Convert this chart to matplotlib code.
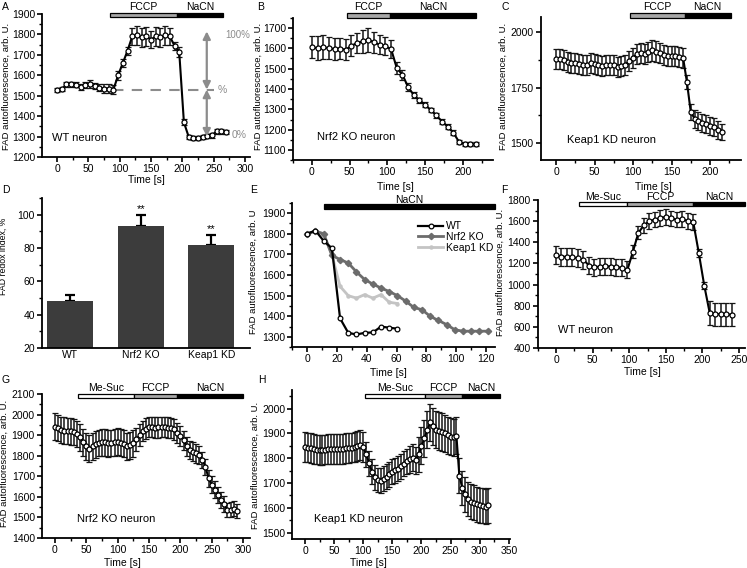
import numpy as np
import matplotlib
matplotlib.use('Agg')
import matplotlib.pyplot as plt
from matplotlib.patches import Rectangle
from matplotlib.transforms import blended_transform_factory
from matplotlib.ticker import MultipleLocator

plt.rcParams['font.family'] = ['Liberation Sans', 'DejaVu Sans']

# ---------------- data ----------------
# Panel A: WT neuron (dt 7.5 s)
a_dt = 7.5
a_val = [1528, 1532, 1555, 1557, 1553, 1543, 1552, 1558, 1547, 1540, 1535, 1535, 1530,
         1600, 1660, 1720, 1790, 1795, 1785, 1790, 1775, 1790, 1785, 1795, 1790, 1745,
         1715, 1370, 1300, 1292, 1293, 1296, 1302, 1306, 1327, 1325, 1322]
a_err = [10, 10, 12, 12, 12, 14, 14, 18, 14, 18, 20, 20, 20, 22, 20, 20, 40, 45, 45,
         45, 40, 45, 45, 45, 40, 20, 25, 15, 10, 10, 10, 10, 10, 12, 12, 10, 10]

# Panel B: Nrf2 KO neuron (dt 7.5 s)
b_dt = 7.5
b_val = [1605, 1601, 1605, 1601, 1596, 1598, 1593, 1613, 1626, 1634, 1642, 1629, 1618,
         1610, 1596, 1503, 1470, 1410, 1370, 1345, 1322, 1297, 1270, 1240, 1215, 1185,
         1140, 1130, 1128, 1128]
b_err = [55, 60, 58, 55, 55, 52, 52, 50, 50, 55, 58, 50, 48, 45, 45, 30, 25, 18, 15,
         12, 12, 12, 12, 12, 12, 12, 10, 10, 10, 10]

# Panel C: Keap1 KD neuron (dt 5 s)
c_dt = 5
c_val = [1878, 1878, 1872, 1866, 1862, 1860, 1858, 1853, 1850, 1860, 1858, 1852, 1846,
         1852, 1853, 1850, 1844, 1848, 1852, 1870, 1885, 1900, 1905, 1903, 1910, 1918,
         1912, 1905, 1898, 1892, 1890, 1891, 1888, 1885, 1775, 1640, 1610, 1598, 1592,
         1585, 1578, 1572, 1560, 1550]
c_err = [45, 45, 45, 45, 45, 45, 45, 45, 45, 45, 45, 45, 45, 45, 45, 45, 45, 45, 45,
         45, 45, 45, 45, 45, 45, 48, 48, 45, 45, 45, 45, 45, 45, 45, 30, 35, 40, 40, 40,
         40, 40, 40, 40, 38]

# Panel D: FAD redox index
d_cat = ['WT', 'Nrf2 KO', 'Keap1 KD']
d_val = [48, 93, 82]
d_err = [4, 7, 6]
d_sig = ['', '**', '**']

# Panel E: NaCN responses (dt 5.5 s)
e_dt = 5.5
e_wt = [1800, 1815, 1765, 1730, 1390, 1320, 1312, 1320, 1322, 1350, 1345, 1340]
e_nrf2 = [1800, 1812, 1800, 1695, 1675, 1658, 1615, 1578, 1556, 1537, 1520, 1500,
          1474, 1443, 1432, 1400, 1380, 1360, 1335, 1328, 1328, 1328, 1328]
e_keap1 = [1800, 1812, 1795, 1700, 1545, 1500, 1488, 1505, 1488, 1505, 1468, 1462]
e_labels = ['WT', 'Nrf2 KO', 'Keap1 KD']

# Panel F: WT neuron with Me-Suc (dt 7.5 s)
f_dt = 7.5
f_val = [1280, 1265, 1262, 1258, 1250, 1235, 1180, 1165, 1170, 1175, 1170, 1165, 1160,
         1140, 1310, 1490, 1560, 1600, 1615, 1630, 1640, 1625, 1615, 1620, 1600, 1590,
         1300, 990, 730, 720, 720, 720, 715]
f_err = [85, 85, 85, 85, 85, 85, 80, 80, 80, 80, 80, 80, 80, 80, 60, 60, 70, 75, 75,
         75, 75, 75, 75, 75, 75, 75, 40, 30, 110, 110, 110, 110, 110]

# Panel G: Nrf2 KO neuron with Me-Suc (dt 5 s)
g_dt = 5
g_val = [1941, 1935, 1925, 1922, 1920, 1918, 1915, 1905, 1890, 1865, 1845, 1835, 1845,
         1855, 1862, 1866, 1865, 1860, 1862, 1866, 1868, 1863, 1858, 1845, 1850, 1860,
         1880, 1900, 1920, 1932, 1940, 1940, 1937, 1938, 1940, 1940, 1937, 1935, 1928,
         1910, 1895, 1875, 1845, 1828, 1820, 1812, 1803, 1780, 1745, 1690, 1660, 1635,
         1610, 1585, 1565, 1535, 1538, 1543, 1532]
g_err = [65, 65, 65, 65, 65, 65, 65, 65, 65, 65, 65, 65, 65, 65, 65, 65, 65, 65, 65,
         65, 65, 65, 65, 65, 65, 65, 55, 55, 50, 50, 50, 50, 50, 50, 50, 50, 50, 50, 50,
         50, 50, 45, 45, 45, 45, 45, 45, 40, 40, 40, 40, 40, 40, 40, 40, 35, 35, 35, 35]

# Panel H: Keap1 KD neuron with Me-Suc (dt 5 s)
h_dt = 5
h_val = [1845, 1843, 1840, 1837, 1835, 1834, 1833, 1835, 1837, 1837, 1837, 1837, 1837,
         1838, 1840, 1842, 1843, 1845, 1850, 1852, 1845, 1815, 1780, 1745, 1723, 1712,
         1710, 1717, 1725, 1735, 1745, 1752, 1758, 1768, 1778, 1788, 1795, 1802, 1792,
         1815, 1850, 1880, 1915, 1945, 1928, 1915, 1910, 1906, 1900, 1893, 1886, 1885,
         1890, 1730, 1680, 1655, 1636, 1625, 1620, 1614, 1610, 1608, 1605, 1610]
h_err = [60, 60, 60, 60, 60, 60, 60, 60, 60, 60, 60, 60, 60, 60, 60, 60, 60, 60, 60,
         60, 60, 50, 50, 50, 50, 50, 50, 50, 50, 50, 50, 50, 50, 50, 50, 50, 55, 55, 55,
         70, 75, 75, 75, 75, 75, 75, 75, 75, 75, 75, 75, 75, 75, 70, 70, 70, 70, 70, 70,
         70, 70, 70, 70, 70]

# drug application bars: (label, start, end, fill)
a_drugs = [('FCCP', 85, 191, '#a8a8a8'), ('NaCN', 191, 265, 'black')]
b_drugs = [('FCCP', 46, 103, '#a8a8a8'), ('NaCN', 103, 218, 'black')]
c_drugs = [('FCCP', 96, 167, '#a8a8a8'), ('NaCN', 167, 227, 'black')]
e_drugs = [('NaCN', 11, 126, 'black')]
f_drugs = [('Me-Suc', 31, 97, 'white'), ('FCCP', 97, 187, '#a8a8a8'), ('NaCN', 187, 258, 'black')]
g_drugs = [('Me-Suc', 37, 126, 'white'), ('FCCP', 126, 195, '#a8a8a8'), ('NaCN', 195, 300, 'black')]
h_drugs = [('Me-Suc', 103, 206, 'white'), ('FCCP', 206, 270, '#a8a8a8'), ('NaCN', 270, 334, 'black')]

# ---------------- figure ----------------
W, H = 747, 568
fig = plt.figure(figsize=(W / 100, H / 100), dpi=100)
YLAB = 'FAD autofluorescence, arb. U.'


def add_ax(l, t, r, b):
    return fig.add_axes([l / W, 1 - b / H, (r - l) / W, (b - t) / H])


def style(ax, xlim, ylim, xmaj, xmin, ymaj, ymin):
    ax.set_xlim(xlim)
    ax.set_ylim(ylim)
    for s in ['top', 'right']:
        ax.spines[s].set_visible(False)
    for s in ['left', 'bottom']:
        ax.spines[s].set_linewidth(1.3)
    if xmaj:
        ax.xaxis.set_major_locator(MultipleLocator(xmaj))
        ax.xaxis.set_minor_locator(MultipleLocator(xmin))
    ax.yaxis.set_major_locator(MultipleLocator(ymaj))
    ax.yaxis.set_minor_locator(MultipleLocator(ymin))
    ax.tick_params(which='major', direction='out', length=3.5, width=1.2, labelsize=7.5, pad=1.5)
    ax.tick_params(which='minor', direction='out', length=2, width=1)


def labels(ax, ylab, ylx, yly, xlx=None, xly=None, fs_y=6.8):
    ax.set_ylabel(ylab, fontsize=fs_y)
    ax.yaxis.set_label_coords(ylx / W, 1 - yly / H, transform=fig.transFigure)
    if xlx is not None:
        ax.set_xlabel('Time [s]', fontsize=7.5)
        ax.xaxis.set_label_coords(xlx / W, 1 - xly / H, transform=fig.transFigure)


def trace(ax, dt, val, err):
    t = np.arange(len(val)) * dt
    ax.errorbar(t, val, yerr=err, fmt='-o', color='black', lw=1.5, ms=3.6,
                mfc='white', mec='black', mew=0.9, ecolor='#151515',
                elinewidth=1.1, capsize=2, capthick=1.1)


def drug_bar(ax, drugs, ybar, ytext, fs=7.5):
    tr = blended_transform_factory(ax.transData, fig.transFigure)
    for lab, x0, x1, fc in drugs:
        ax.add_patch(Rectangle((x0, 1 - (ybar + 2.2) / H), x1 - x0, 4.4 / H, transform=tr,
                               facecolor=fc, edgecolor='black', lw=0.9, clip_on=False))
        ax.text((x0 + x1) / 2, 1 - ytext / H, lab, transform=tr, ha='center', va='center',
                fontsize=fs)


def letter(x, y, s):
    fig.text(x / W, 1 - y / H, s, fontsize=7.5, ha='left', va='center')


# ---- A ----
axA = add_ax(42, 14, 250, 157)
style(axA, (-24, 308), (1200, 1900), 50, 25, 100, 50)
trace(axA, a_dt, a_val, a_err)
labels(axA, YLAB, 11, 86, 146, 175)
drug_bar(axA, a_drugs, 15, 6.5)
grey = '#8c8c8c'
axA.plot([90, 250], [1530, 1530], ls=(0, (5, 4)), color=grey, lw=1.5, zorder=1)
for y0, y1 in [(1530, 1815), (1530, 1300)]:
    axA.annotate('', xy=(239, y1), xytext=(239, y0),
                 arrowprops=dict(arrowstyle='<|-|>', color=grey, lw=1.6,
                                 mutation_scale=11, shrinkA=0, shrinkB=0))
axA.text(268, 1797, '100%', color=grey, fontsize=7, ha='left', va='center', clip_on=False)
axA.text(256, 1528, '%', color=grey, fontsize=7.5, ha='left', va='center', clip_on=False)
axA.text(278, 1308, '0%', color=grey, fontsize=7.5, ha='left', va='center', clip_on=False)
axA.text(0.05, 0.13, 'WT neuron', transform=axA.transAxes, fontsize=8, va='center')
letter(2, 7, 'A')

# ---- B ----
axB = add_ax(293, 17.8, 493, 160.2)
style(axB, (-25, 240), (1050, 1750), 50, 25, 100, 50)
trace(axB, b_dt, b_val, b_err)
labels(axB, YLAB, 263, 86, 395, 182)
drug_bar(axB, b_drugs, 15.5, 6.5)
axB.text(0.12, 0.16, 'Nrf2 KO neuron', transform=axB.transAxes, fontsize=8, va='center')
letter(257, 7, 'B')

# ---- C ----
axC = add_ax(540.6, 16.5, 740.8, 159.7)
style(axC, (-20, 240), (1425, 2070), 50, 25, 250, 125)
trace(axC, c_dt, c_val, c_err)
labels(axC, YLAB, 508, 86, 653, 182)
drug_bar(axC, c_drugs, 15.5, 6.5)
axC.text(0.13, 0.14, 'Keap1 KD neuron', transform=axC.transAxes, fontsize=8, va='center')
letter(501, 7, 'C')

# ---- D ----
axD = add_ax(42, 198, 250, 348)
style(axD, (-0.4, 2.55), (20, 110), None, None, 20, 10)
xd = np.arange(len(d_cat))
axD.bar(xd, np.array(d_val) - 20, bottom=20, width=0.65, color='#3c3c3c', zorder=2)
axD.errorbar(xd, d_val, yerr=[np.zeros(len(d_err)), d_err], fmt='none', ecolor='black',
             elinewidth=1.6, capsize=3.5, capthick=1.6, zorder=1)
for x, v, e, s in zip(xd, d_val, d_err, d_sig):
    if s:
        axD.text(x, v + e + 0.5, s, ha='center', va='bottom', fontsize=8)
axD.set_xticks(xd)
axD.set_xticklabels(d_cat, fontsize=7.5)
axD.tick_params(axis='x', which='both', length=0)
axD.set_ylabel('FAD redox index, %', fontsize=6.3)
axD.yaxis.set_label_coords(8 / W, 1 - 256 / H, transform=fig.transFigure)
letter(2, 190, 'D')

# ---- E ----
axE = add_ax(292.4, 202.7, 495, 347.3)
style(axE, (-10, 126), (1250, 1950), 20, 10, 100, 50)
tE_nrf = np.arange(len(e_nrf2)) * e_dt
tE_k = np.arange(len(e_keap1)) * e_dt
tE_wt = np.arange(len(e_wt)) * e_dt
axE.plot(tE_k, e_keap1, '-o', color='#c4c4c4', lw=2.0, ms=2.2, label=e_labels[2], zorder=2)
axE.plot(tE_nrf, e_nrf2, '-D', color='#6c6c6c', lw=2.0, ms=3.2, label=e_labels[1], zorder=3)
axE.plot(tE_wt, e_wt, '-o', color='black', lw=1.6, ms=3.4, mfc='white', mec='black',
         mew=0.9, label=e_labels[0], zorder=4)
h, l = axE.get_legend_handles_labels()
axE.legend(h[::-1], l[::-1], loc='upper left', bbox_to_anchor=(0.62, 0.87), frameon=False,
           fontsize=7.5, handlelength=2.4, labelspacing=0.05, handletextpad=0.3,
           borderaxespad=0, borderpad=0)
labels(axE, 'FAD autofluorescence, arb. U', 258, 272, 388, 368)
drug_bar(axE, e_drugs, 206.5, 199.5)
letter(250, 190, 'E')

# ---- F ----
axF = add_ax(537.7, 200, 744.9, 348)
style(axF, (-25, 258), (400, 1800), 50, 25, 200, 100)
trace(axF, f_dt, f_val, f_err)
labels(axF, YLAB, 505, 272, 642, 367)
drug_bar(axF, f_drugs, 204, 196.5)
axF.text(0.1, 0.12, 'WT neuron', transform=axF.transAxes, fontsize=8, va='center')
letter(501, 190, 'F')

# ---- G ----
axG = add_ax(41.8, 394, 250, 538)
style(axG, (-21, 311), (1400, 2100), 50, 25, 100, 50)
trace(axG, g_dt, g_val, g_err)
labels(axG, YLAB, 8.5, 463, 122, 558)
drug_bar(axG, g_drugs, 396, 388)
axG.text(0.17, 0.13, 'Nrf2 KO neuron', transform=axG.transAxes, fontsize=8, va='center')
letter(2, 380, 'G')

# ---- H ----
axH = add_ax(292.2, 390, 510, 538.8)
style(axH, (-22, 352), (1475, 2075), 50, 25, 100, 50)
trace(axH, h_dt, h_val, h_err)
labels(axH, YLAB, 260, 465, 368, 558)
drug_bar(axH, h_drugs, 396, 388)
axH.text(0.1, 0.13, 'Keap1 KD neuron', transform=axH.transAxes, fontsize=8, va='center')
letter(258, 380, 'H')

fig.savefig('out.png', dpi=100)
